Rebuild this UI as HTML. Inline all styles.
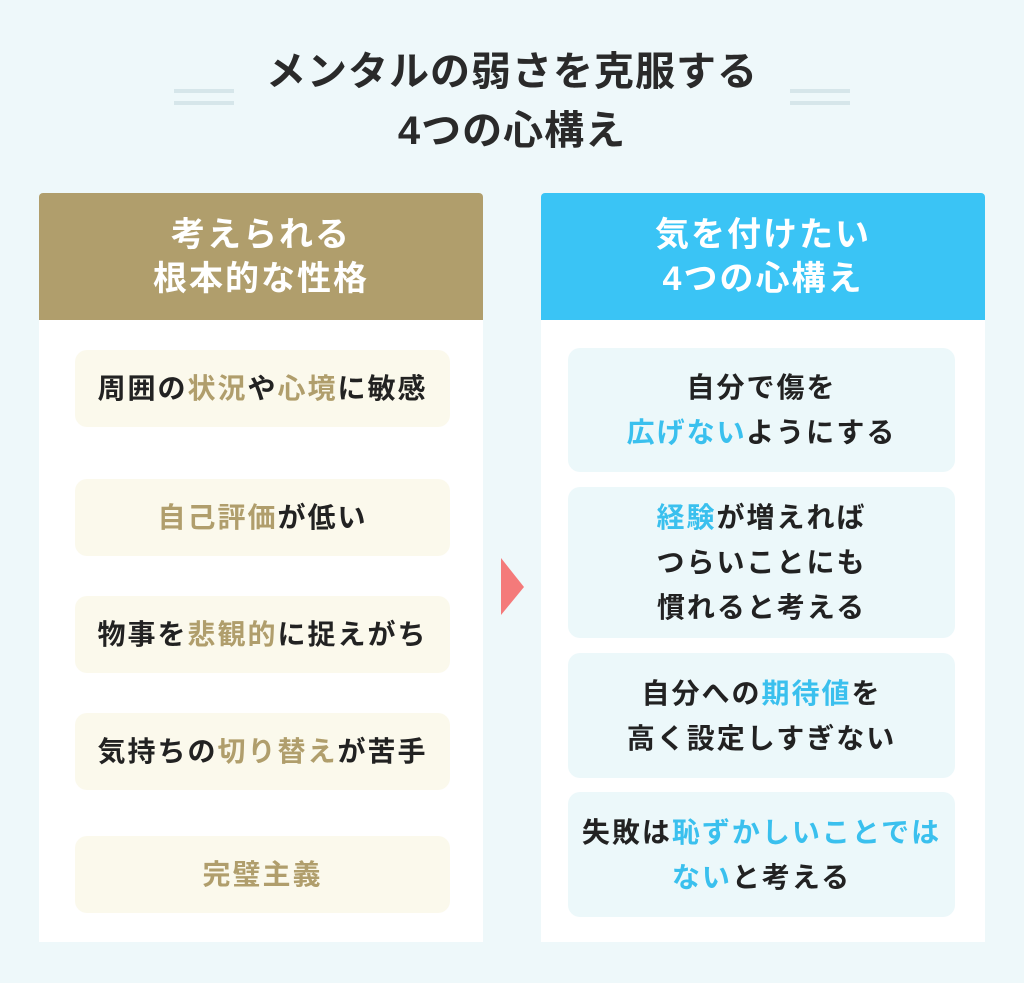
<!DOCTYPE html>
<html><head><meta charset="utf-8"><style>
*{margin:0;padding:0;box-sizing:border-box}
body{width:1024px;height:983px;background:#eef8fa;position:relative;font-family:"Liberation Sans","Noto Sans CJK JP",sans-serif;font-weight:700;color:#222;overflow:hidden}
.a{position:absolute}
.t{left:0;width:1024px;text-align:center;font-size:40px;letter-spacing:1px;line-height:59px;top:43px;color:#2a2a2a}
.dl{width:60px;height:4px;background:#d6e6ea}
.panel{background:#fff;top:193px;width:444px;height:749px;border-radius:4px 4px 0 0}
.hd{top:193px;width:444px;height:127px;border-radius:4px 4px 0 0;color:#fff;font-size:34px;letter-spacing:2px;line-height:44px;text-align:center;padding-top:20px}
.b{border-radius:12px;display:flex;align-items:center;justify-content:center;text-align:center;font-size:28px;letter-spacing:2px;line-height:45px}
.l{left:75px;width:375px;height:77px;background:#fbf9ec}
.r{left:568px;width:387px;background:#ecf8fa}
.g{color:#b09e6c}.c{color:#3ac0ee}
</style></head><body>
<div class="a t">メンタルの弱さを克服する<br>4つの心構え</div>
<div class="a dl" style="left:174px;top:89px"></div><div class="a dl" style="left:174px;top:101px"></div>
<div class="a dl" style="left:790px;top:89px"></div><div class="a dl" style="left:790px;top:101px"></div>
<div class="a panel" style="left:39px"></div>
<div class="a panel" style="left:541px"></div>
<div class="a hd" style="left:39px;background:#b09e6c">考えられる<br>根本的な性格</div>
<div class="a hd" style="left:541px;background:#3ac4f5">気を付けたい<br>4つの心構え</div>
<div class="a b l" style="top:350px"><span>周囲の<span class="g">状況</span>や<span class="g">心境</span>に敏感</span></div>
<div class="a b l" style="top:479px"><span><span class="g">自己評価</span>が低い</span></div>
<div class="a b l" style="top:596px"><span>物事を<span class="g">悲観的</span>に捉えがち</span></div>
<div class="a b l" style="top:713px"><span>気持ちの<span class="g">切り替え</span>が苦手</span></div>
<div class="a b l" style="top:836px"><span class="g">完璧主義</span></div>
<div class="a b r" style="top:348px;height:124px"><span>自分で傷を<br><span class="c">広げない</span>ようにする</span></div>
<div class="a b r" style="top:487px;height:151px"><span><span class="c">経験</span>が増えれば<br>つらいことにも<br>慣れると考える</span></div>
<div class="a b r" style="top:653px;height:125px"><span>自分への<span class="c">期待値</span>を<br>高く設定しすぎない</span></div>
<div class="a b r" style="top:792px;height:125px"><span>失敗は<span class="c">恥ずかしいことでは</span><br><span class="c">ない</span>と考える</span></div>
<svg class="a" style="left:501px;top:558px" width="24" height="58"><polygon points="0,0 23,29 0,57" fill="#f47a7a"/></svg>
</body></html>
